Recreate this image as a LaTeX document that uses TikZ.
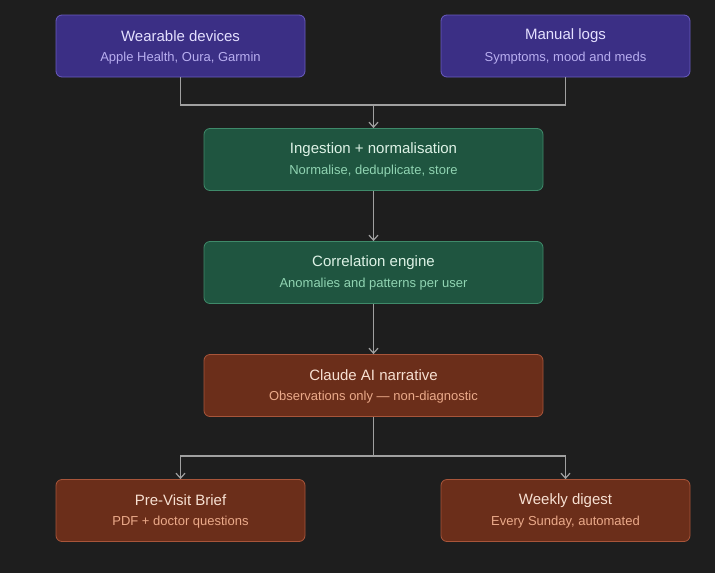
\documentclass[tikz,border=0pt]{standalone}
\usepackage{fontspec}
\setmainfont{Liberation Sans}
\usetikzlibrary{arrows.meta}
\definecolor{bg}{HTML}{1E1E1E}
\definecolor{pf}{HTML}{3B2F85}\definecolor{pd}{HTML}{6A5CC0}\definecolor{pt}{HTML}{E4E0FF}\definecolor{ps}{HTML}{B8AEF0}
\definecolor{gf}{HTML}{1F5540}\definecolor{gd}{HTML}{3F8A6A}\definecolor{gt}{HTML}{DDF2E6}\definecolor{gs}{HTML}{90D4B2}
\definecolor{bf}{HTML}{6B2E1A}\definecolor{bd}{HTML}{A8553A}\definecolor{bt}{HTML}{F7E0D2}\definecolor{bs}{HTML}{EBAA8A}
\definecolor{ln}{HTML}{A0A0A0}
\tikzset{
 box/.style={draw, rounded corners=6pt, line width=0.8pt, minimum height=62pt, align=center, inner sep=0pt},
 wide/.style={minimum width=249pt},
 mid/.style={minimum width=339pt},
 pur/.style={box, fill=pf, draw=pd},
 grn/.style={box, fill=gf, draw=gd},
 brn/.style={box, fill=bf, draw=bd},
 ttl/.style={font=\fontsize{15}{18}\selectfont},
 sub/.style={font=\fontsize{13}{16}\selectfont},
 con/.style={draw=ln, line width=1.2pt},
 arr/.style={con, -{Straight Barb[length=5pt,width=9pt]}}
}
\newcommand{\bx}[5]{\node[#1,#2] (#3) at #4 {};
 \node[ttl, text=#5t] at ([yshift=11pt]#3.center) {\strut\csname ttl#3\endcsname};}
\begin{document}
\begin{tikzpicture}[x=1pt,y=-1pt]
\fill[bg] (0,0) rectangle (715,573);
\useasboundingbox (0,0) rectangle (715,573);
\def\mk#1#2#3#4#5#6#7{\node[#1,#2] (#3) at #4 {};
 \node[ttl,text=#5] at ([yshift=11pt]#3.center) {#6};
 \node[sub,text=#5!0!black] at ([yshift=-11pt]#3.center) {};}
\node[pur,wide] (wear) at (180.5,46) {};
\node[ttl,text=pt] at ([yshift=10pt]wear.center) {Wearable devices};
\node[sub,text=ps] at ([yshift=-12pt]wear.center) {Apple Health, Oura, Garmin};
\node[pur,wide] (man) at (565.5,46) {};
\node[ttl,text=pt] at ([yshift=10pt]man.center) {Manual logs};
\node[sub,text=ps] at ([yshift=-12pt]man.center) {Symptoms, mood and meds};
\node[grn,mid] (ing) at (373.5,159.5) {};
\node[ttl,text=gt] at ([yshift=10pt]ing.center) {Ingestion + normalisation};
\node[sub,text=gs] at ([yshift=-12pt]ing.center) {Normalise, deduplicate, store};
\node[grn,mid] (cor) at (373.5,272.5) {};
\node[ttl,text=gt] at ([yshift=10pt]cor.center) {Correlation engine};
\node[sub,text=gs] at ([yshift=-12pt]cor.center) {Anomalies and patterns per user};
\node[brn,mid] (cla) at (373.5,385.5) {};
\node[ttl,text=bt] at ([yshift=10pt]cla.center) {Claude AI narrative};
\node[sub,text=bs] at ([yshift=-12pt]cla.center) {Observations only — non-diagnostic};
\node[brn,wide] (pre) at (180.5,510.5) {};
\node[ttl,text=bt] at ([yshift=10pt]pre.center) {Pre-Visit Brief};
\node[sub,text=bs] at ([yshift=-12pt]pre.center) {PDF + doctor questions};
\node[brn,wide] (wk) at (565.5,510.5) {};
\node[ttl,text=bt] at ([yshift=10pt]wk.center) {Weekly digest};
\node[sub,text=bs] at ([yshift=-12pt]wk.center) {Every Sunday, automated};
\coordinate (j1) at (373.5,105);
\coordinate (j2) at (373.5,456);
\draw[con] (wear.south) |- (j1) -| (man.south);
\draw[arr] (j1) -- (ing.north);
\draw[arr] (ing) -- (cor);
\draw[arr] (cor) -- (cla);
\draw[con] (cla.south) -- (j2);
\draw[arr] (j2) -| (pre.north);
\draw[arr] (j2) -| (wk.north);
\end{tikzpicture}
\end{document}
